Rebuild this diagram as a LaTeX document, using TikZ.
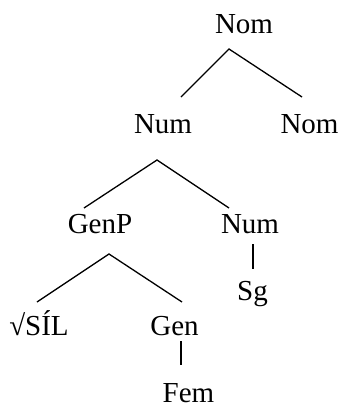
\documentclass[tikz,border=0pt]{standalone}
\usepackage{fontspec}
\setmainfont{Liberation Serif}
\begin{document}
\begin{tikzpicture}[x=1pt,y=-1pt,
  lbl/.style={anchor=base,inner sep=0pt,font=\fontsize{29}{34}\selectfont},
  edge/.style={line width=1.3pt,line cap=butt,line join=miter}]
\useasboundingbox (0,0) rectangle (341,407);
% labels
\node[lbl] (nomA) at (244,33) {Nom};
\node[lbl] (numA) at (163,133) {Num};
\node[lbl] (nomB) at (309.5,133) {Nom};
\node[lbl] (genp) at (100,233) {GenP};
\node[lbl] (numB) at (250,233) {Num};
\node[lbl] (sg) at (252.5,300) {Sg};
\node[lbl] (sil) at (39,335) {√SÍL};
\node[lbl] (gen) at (174.5,335) {Gen};
\node[lbl] (fem) at (188.5,402) {Fem};
% branch points
\coordinate (a1) at (229,49);
\coordinate (a1l) at (181,97);
\coordinate (a1r) at (302,97);
\coordinate (a2) at (157,160);
\coordinate (a2l) at (84,208);
\coordinate (a2r) at (229,208);
\coordinate (a3) at (109,254);
\coordinate (a3l) at (37,302);
\coordinate (a3r) at (182,302);
\coordinate (u1) at (253,244);
\coordinate (u1b) at (253,269);
\coordinate (u2) at (181,341);
\coordinate (u2b) at (181,365);
% connectors
\draw[edge] (a1l) -- (a1) -- (a1r);
\draw[edge] (a2l) -- (a2) -- (a2r);
\draw[edge] (a3l) -- (a3) -- (a3r);
\draw[edge] (u1) -- (u1b);
\draw[edge] (u2) -- (u2b);
\end{tikzpicture}
\end{document}
